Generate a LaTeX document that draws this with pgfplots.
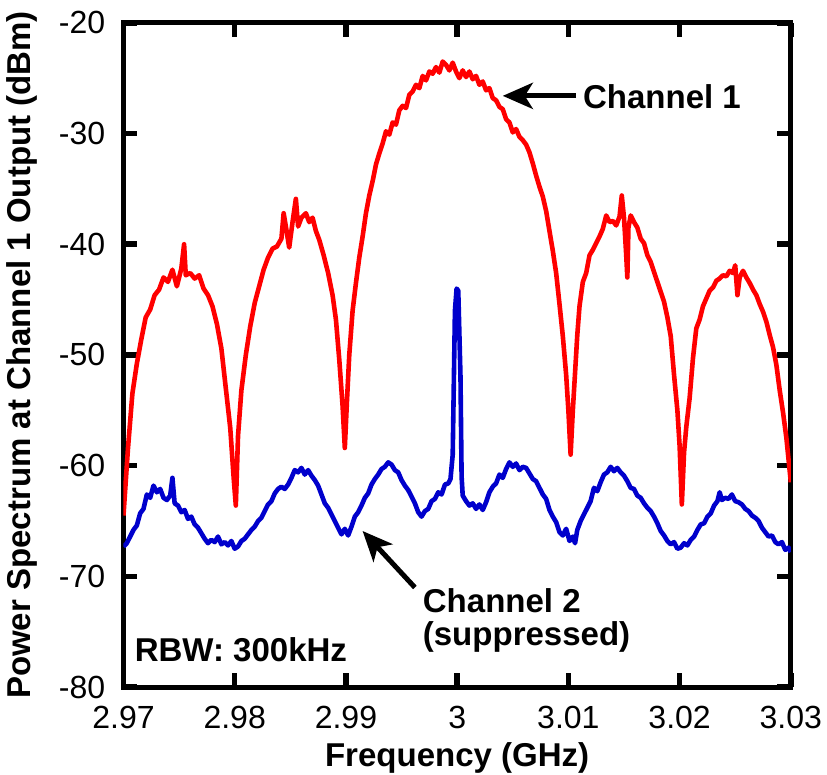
\documentclass[border={6pt 0pt 4pt 10pt}]{standalone}
\usepackage{pgfplots}
\pgfplotsset{compat=1.18}
\usepackage{fontspec}
\setmainfont{Liberation Sans}
\usetikzlibrary{arrows.meta}
\definecolor{cred}{RGB}{255,0,0}
\definecolor{cblue}{RGB}{0,0,204}
\begin{document}
\fontsize{32}{38}\selectfont
\begin{tikzpicture}
\begin{axis}[
  scale only axis, width=667pt, height=664pt,
  xmin=2.97, xmax=3.03, ymin=-80, ymax=-20,
  xtick={2.97,2.98,2.99,3,3.01,3.02,3.03},
  xticklabels={2.97,2.98,2.99,3,3.01,3.02,3.03},
  ytick={-80,-70,-60,-50,-40,-30,-20},
  yticklabels={-80,-70,-60,-50,-40,-30,-20},
  tick align=inside, major tick length=14pt,
  every tick/.style={line width=5.5pt, black},
  axis line style={line width=5pt},
  /pgf/number format/assume math mode=true,
  ticklabel style={font=\fontsize{32}{38}\selectfont, inner sep=1pt},
  xticklabel style={yshift=-18pt},
  yticklabel style={xshift=-17pt},
  xlabel={\textbf{Frequency (GHz)}},
  ylabel={\textbf{Power Spectrum at Channel 1 Output (dBm)}},
  label style={font=\fontsize{33}{38}\selectfont, inner sep=1pt},
  xlabel style={yshift=-11pt},
  ylabel style={yshift=19pt},
  clip=true,
]
\addplot[cred, line width=4.6pt, line join=round] coordinates {
(2.9700,-64.5) (2.9704,-58.5) (2.9708,-53.5) (2.9712,-50.8) (2.9716,-48.6) (2.9720,-46.6)
(2.9724,-45.9) (2.9728,-44.6) (2.9732,-44.1) (2.9736,-43.0) (2.9740,-43.4) (2.9744,-42.3)
(2.9748,-43.8) (2.9752,-42.2) (2.97545,-40.0) (2.9756,-42.8) (2.9760,-42.6) (2.9764,-43.1)
(2.9768,-42.8) (2.9772,-44.0) (2.9776,-44.6) (2.9780,-45.6) (2.9784,-47.2) (2.9788,-49.4)
(2.9792,-53.0) (2.9796,-56.6) (2.9799,-61.0) (2.9801,-63.6) (2.9803,-57.3) (2.9806,-53.2)
(2.9810,-50.0) (2.9814,-47.4) (2.9818,-45.3) (2.9822,-43.8) (2.9826,-42.3) (2.9830,-41.2)
(2.9834,-40.4) (2.9838,-40.2) (2.9842,-39.5) (2.9844,-37.2) (2.9846,-38.4) (2.9849,-40.3)
(2.9852,-38.0) (2.9855,-35.9) (2.9857,-38.4) (2.9860,-37.6) (2.9864,-37.2) (2.9867,-38.0)
(2.9870,-37.6) (2.9873,-38.8) (2.9876,-39.6) (2.9880,-41.0) (2.9884,-42.6) (2.9888,-44.6)
(2.9891,-46.8) (2.9894,-50.4) (2.9897,-54.6) (2.9899,-58.4) (2.9901,-54.0) (2.9903,-50.0)
(2.9906,-46.0) (2.9909,-43.5) (2.9912,-41.2) (2.9915,-39.3) (2.9918,-37.2) (2.9921,-35.6)
(2.9924,-34.3) (2.9927,-32.8) (2.9930,-31.8) (2.9933,-30.9) (2.9936,-29.8) (2.9939,-30.1)
(2.9942,-29.0) (2.9945,-29.2) (2.9948,-27.9) (2.9951,-27.5) (2.9954,-27.7) (2.9957,-26.5)
(2.9960,-26.2) (2.9963,-25.6) (2.9966,-25.9) (2.9969,-24.8) (2.9972,-25.2) (2.9975,-24.4)
(2.9978,-24.6) (2.9981,-24.0) (2.9984,-24.5) (2.9987,-23.5) (2.9990,-23.8) (2.9993,-24.3)
(2.9996,-23.6) (2.9999,-24.4) (3.0002,-25.0) (3.0005,-24.3) (3.0008,-24.9) (3.0011,-24.4)
(3.0014,-25.1) (3.0017,-24.8) (3.0020,-25.6) (3.0023,-25.3) (3.0026,-26.1) (3.0029,-25.9)
(3.0032,-26.8) (3.0035,-27.0) (3.0038,-27.6) (3.0041,-27.8) (3.0044,-28.7) (3.0047,-29.0)
(3.0050,-29.9) (3.0053,-29.6) (3.0056,-30.3) (3.0059,-30.6) (3.0062,-31.0) (3.0065,-31.7)
(3.0068,-32.7) (3.0071,-33.8) (3.0074,-34.8) (3.0077,-35.7) (3.0080,-37.0) (3.0083,-38.8)
(3.0086,-40.6) (3.0089,-42.6) (3.0092,-45.4) (3.0095,-48.3) (3.0098,-51.8) (3.0100,-55.0)
(3.0102,-59.0) (3.0104,-55.0) (3.0106,-51.6) (3.0108,-48.2) (3.0110,-45.6) (3.0113,-43.4)
(3.0116,-42.6) (3.0119,-41.0) (3.0122,-40.5) (3.0125,-39.9) (3.0128,-39.3) (3.0131,-38.6)
(3.0134,-37.4) (3.0137,-38.0) (3.0140,-37.9) (3.0143,-38.3) (3.0146,-37.5) (3.0148,-35.6)
(3.0150,-37.6) (3.0152,-41.0) (3.0153,-43.0) (3.0154,-38.5) (3.0156,-37.4) (3.0159,-38.0)
(3.0162,-38.5) (3.0165,-39.5) (3.0168,-39.9) (3.0171,-41.0) (3.0174,-41.6) (3.0177,-42.5)
(3.0180,-43.4) (3.0183,-44.3) (3.0186,-45.2) (3.0189,-46.6) (3.0192,-48.3) (3.0195,-51.8)
(3.0198,-55.0) (3.0200,-58.2) (3.0202,-63.5) (3.0204,-58.8) (3.0206,-56.5) (3.0209,-53.9)
(3.0212,-50.3) (3.0215,-47.6) (3.0218,-46.8) (3.0221,-45.6) (3.0224,-44.9) (3.0227,-44.2)
(3.0230,-43.9) (3.0233,-43.3) (3.0236,-43.1) (3.0239,-42.8) (3.0242,-42.9) (3.0245,-42.4)
(3.0248,-42.6) (3.0250,-41.9) (3.0252,-44.6) (3.0254,-43.0) (3.0257,-42.4) (3.0260,-43.0)
(3.0263,-43.5) (3.0266,-44.1) (3.0269,-44.6) (3.0272,-45.4) (3.0275,-46.1) (3.0278,-47.0)
(3.0281,-48.2) (3.0284,-49.3) (3.0287,-50.9) (3.0290,-53.2) (3.0293,-55.2) (3.0296,-57.5)
(3.0300,-61.5)
};
\addplot[cblue, line width=4.6pt, line join=round] coordinates {
(2.9700,-67.3) (2.9703,-67.0) (2.9706,-66.4) (2.9709,-65.8) (2.9712,-65.4) (2.9715,-64.3)
(2.9718,-63.9) (2.9721,-62.6) (2.9724,-62.9) (2.9727,-61.8) (2.9730,-62.4) (2.9733,-62.1)
(2.9736,-62.9) (2.9739,-63.1) (2.9742,-62.7) (2.9744,-61.1) (2.9746,-63.4) (2.9749,-63.6)
(2.9752,-64.2) (2.9755,-64.0) (2.9758,-64.8) (2.9761,-64.6) (2.9764,-65.3) (2.9767,-65.6)
(2.9770,-66.1) (2.9773,-66.6) (2.9776,-67.0) (2.9779,-66.7) (2.9782,-66.9) (2.9785,-66.4)
(2.9788,-67.1) (2.9791,-66.9) (2.9794,-67.2) (2.9797,-66.8) (2.9800,-67.5) (2.9803,-67.3)
(2.9806,-66.8) (2.9809,-66.6) (2.9812,-66.2) (2.9815,-65.8) (2.9818,-65.5) (2.9821,-65.0)
(2.9824,-64.7) (2.9827,-64.1) (2.9830,-63.5) (2.9833,-63.2) (2.9836,-62.5) (2.9839,-62.1)
(2.9842,-61.9) (2.9845,-62.1) (2.9848,-61.7) (2.9851,-61.1) (2.9854,-60.4) (2.9857,-60.6)
(2.9860,-60.2) (2.9863,-60.8) (2.9866,-60.4) (2.9869,-60.9) (2.9872,-61.3) (2.9875,-61.8)
(2.9878,-62.6) (2.9881,-63.4) (2.9884,-63.8) (2.9887,-64.4) (2.9890,-65.0) (2.9893,-65.6)
(2.9896,-66.2) (2.9899,-65.7) (2.9902,-66.3) (2.9905,-65.5) (2.9908,-64.6) (2.9911,-64.2)
(2.9914,-63.6) (2.9917,-62.9) (2.9920,-62.5) (2.9923,-61.7) (2.9926,-61.2) (2.9929,-60.8)
(2.9932,-60.3) (2.9935,-60.1) (2.9938,-59.7) (2.9941,-59.9) (2.9944,-60.4) (2.9947,-60.6)
(2.9950,-61.3) (2.9953,-61.8) (2.9956,-62.2) (2.9959,-62.8) (2.9962,-63.4) (2.9965,-64.2)
(2.9968,-64.6) (2.9971,-64.1) (2.9974,-63.9) (2.9977,-63.2) (2.9980,-63.0) (2.9983,-62.4)
(2.9986,-62.6) (2.9989,-61.7) (2.9992,-61.6) (2.9994,-61.2) (2.9996,-59.0) (2.9998,-46.0)
(2.99995,-44.0) (3.0001,-44.2) (3.0003,-52.0) (3.0004,-61.0) (3.0005,-62.7) (3.0008,-63.2)
(3.0011,-63.6) (3.0014,-63.4) (3.0017,-63.9) (3.0020,-63.5) (3.0023,-64.0) (3.0026,-63.3)
(3.0029,-62.4) (3.0032,-61.9) (3.0035,-61.6) (3.0038,-60.8) (3.0041,-61.1) (3.0044,-60.3)
(3.0047,-59.7) (3.0050,-60.1) (3.0053,-59.8) (3.0056,-60.4) (3.0059,-60.1) (3.0062,-60.2)
(3.0065,-60.7) (3.0068,-61.2) (3.0071,-61.4) (3.0074,-62.0) (3.0077,-62.6) (3.0080,-63.0)
(3.0083,-64.0) (3.0086,-64.6) (3.0089,-65.1) (3.0092,-66.0) (3.0095,-66.3) (3.0098,-65.7)
(3.0101,-66.8) (3.0104,-66.4) (3.0106,-67.0) (3.0108,-65.8) (3.0111,-65.0) (3.0114,-64.4)
(3.0117,-63.8) (3.0120,-63.2) (3.0123,-62.0) (3.0126,-62.3) (3.0129,-61.5) (3.0132,-60.8)
(3.0135,-60.6) (3.0138,-60.1) (3.0141,-60.5) (3.0144,-60.2) (3.0147,-60.6) (3.0150,-60.9)
(3.0153,-61.4) (3.0156,-62.0) (3.0159,-62.1) (3.0162,-62.7) (3.0165,-62.9) (3.0168,-63.4)
(3.0171,-63.8) (3.0174,-64.1) (3.0177,-64.6) (3.0180,-65.2) (3.0183,-65.9) (3.0186,-66.3)
(3.0189,-66.8) (3.0192,-67.1) (3.0195,-66.9) (3.0198,-67.5) (3.0201,-67.4) (3.0204,-67.0)
(3.0207,-67.2) (3.0210,-66.7) (3.0213,-66.4) (3.0216,-65.8) (3.0219,-65.3) (3.0222,-65.2)
(3.0225,-64.6) (3.0228,-64.3) (3.0231,-63.6) (3.0234,-63.2) (3.0236,-62.4) (3.0238,-63.1)
(3.0241,-62.9) (3.0244,-63.0) (3.0247,-62.6) (3.0250,-63.2) (3.0253,-63.3) (3.0256,-63.5)
(3.0259,-63.9) (3.0262,-64.1) (3.0265,-64.5) (3.0268,-64.7) (3.0271,-65.0) (3.0274,-65.6)
(3.0277,-66.0) (3.0280,-66.4) (3.0283,-66.3) (3.0286,-66.9) (3.0289,-67.1) (3.0292,-66.9)
(3.0295,-67.6) (3.0298,-67.4) (3.0300,-67.8)
};
\draw[line width=5pt, -{Stealth[length=30pt,width=26pt,inset=8pt]}] (axis cs:3.0107,-26.6) -- (axis cs:3.0041,-26.6);
\node[anchor=west, font=\fontsize{33}{38}\selectfont\bfseries, inner sep=0pt] at (axis cs:3.0113,-26.7) {Channel 1};
\draw[line width=5pt, -{Stealth[length=30pt,width=26pt,inset=8pt]}] (axis cs:2.9962,-71.0) -- (axis cs:2.9915,-65.9);
\node[anchor=west, font=\fontsize{33}{38}\selectfont\bfseries, inner sep=0pt] at (axis cs:2.9969,-72.2) {Channel 2};
\node[anchor=west, font=\fontsize{33}{38}\selectfont\bfseries, inner sep=0pt] at (axis cs:2.9969,-75.5) {(suppressed)};
\node[anchor=west, font=\fontsize{33}{38}\selectfont\bfseries, inner sep=0pt] at (axis cs:2.9710,-76.6) {RBW: 300kHz};
\end{axis}
\end{tikzpicture}
\end{document}
